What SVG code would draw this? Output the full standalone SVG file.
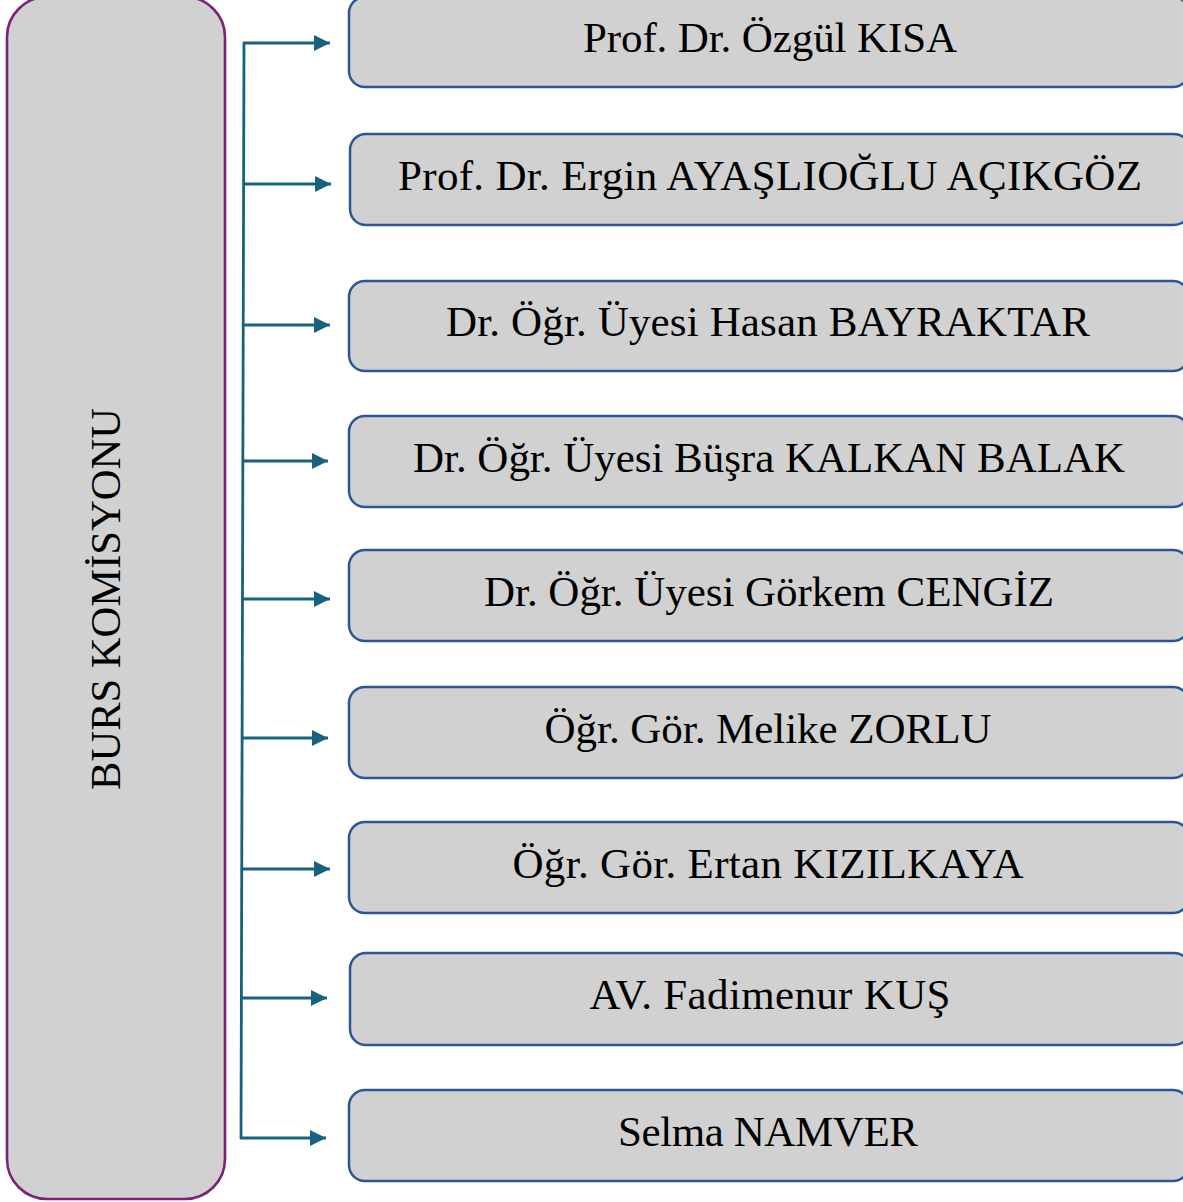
<svg xmlns="http://www.w3.org/2000/svg" width="1183" height="1202" viewBox="0 0 1183 1202">
<defs>
<style>
.box{fill:#d1d1d1;stroke:#2f5597;stroke-width:2.5}
.lbl{font-family:"Liberation Serif","Times New Roman",serif;font-size:43px;fill:#000;text-anchor:middle}
.conn{stroke:#17627f;stroke-width:2.8;fill:none}
</style>
<marker id="ah" markerUnits="userSpaceOnUse" markerWidth="16" markerHeight="16" viewBox="0 0 16 16" refX="16" refY="8" orient="auto">
<path d="M0,0 L16,8 L0,16 Z" fill="#17627f"/>
</marker>
</defs>
<rect width="1183" height="1202" fill="#fff"/>
<g id="burs-komisyonu">
<rect x="7" y="-3" width="218" height="1202" rx="40" ry="40" fill="#d1d1d1" stroke="#7b2374" stroke-width="2.6"/>
<text class="lbl" transform="translate(120,599) rotate(-90)" textLength="382" lengthAdjust="spacingAndGlyphs">BURS KOMİSYONU</text>
</g>
<g id="connectors">
<path class="conn" d="M244,42 L241,1139" stroke-width="3.4"/>
<path class="conn" d="M243,43 H330" marker-end="url(#ah)"/>
<path class="conn" d="M243,184 H331" marker-end="url(#ah)"/>
<path class="conn" d="M243,325 H330" marker-end="url(#ah)"/>
<path class="conn" d="M243,461 H328" marker-end="url(#ah)"/>
<path class="conn" d="M242,599 H330" marker-end="url(#ah)"/>
<path class="conn" d="M242,738 H328" marker-end="url(#ah)"/>
<path class="conn" d="M242,869 H330" marker-end="url(#ah)"/>
<path class="conn" d="M241,998 H327" marker-end="url(#ah)"/>
<path class="conn" d="M240,1138 H326" marker-end="url(#ah)"/>
</g>
<g id="n1"><rect class="box" x="349" y="-3" width="840" height="90" rx="16"/><text class="lbl" x="770" y="52" textLength="374">Prof. Dr. Özgül KISA</text></g>
<g id="n2"><rect class="box" x="350" y="134" width="840" height="91" rx="16"/><text class="lbl" x="770" y="190" textLength="744">Prof. Dr. Ergin AYAŞLIOĞLU AÇIKGÖZ</text></g>
<g id="n3"><rect class="box" x="349" y="281" width="840" height="90" rx="16"/><text class="lbl" x="768" y="336" textLength="644">Dr. Öğr. Üyesi Hasan BAYRAKTAR</text></g>
<g id="n4"><rect class="box" x="349" y="416" width="840" height="91" rx="16"/><text class="lbl" x="769" y="472" textLength="712">Dr. Öğr. Üyesi Büşra KALKAN BALAK</text></g>
<g id="n5"><rect class="box" x="349" y="550" width="840" height="91" rx="16"/><text class="lbl" x="769" y="606" textLength="570">Dr. Öğr. Üyesi Görkem CENGİZ</text></g>
<g id="n6"><rect class="box" x="349" y="687" width="840" height="91" rx="16"/><text class="lbl" x="768" y="743" textLength="447">Öğr. Gör. Melike ZORLU</text></g>
<g id="n7"><rect class="box" x="349" y="822" width="840" height="91" rx="16"/><text class="lbl" x="768" y="878" textLength="511">Öğr. Gör. Ertan KIZILKAYA</text></g>
<g id="n8"><rect class="box" x="350" y="953" width="840" height="92" rx="16"/><text class="lbl" x="770" y="1009" textLength="361">AV. Fadimenur KUŞ</text></g>
<g id="n9"><rect class="box" x="349" y="1090" width="840" height="91" rx="16"/><text class="lbl" x="768" y="1146" textLength="300">Selma NAMVER</text></g>
</svg>
